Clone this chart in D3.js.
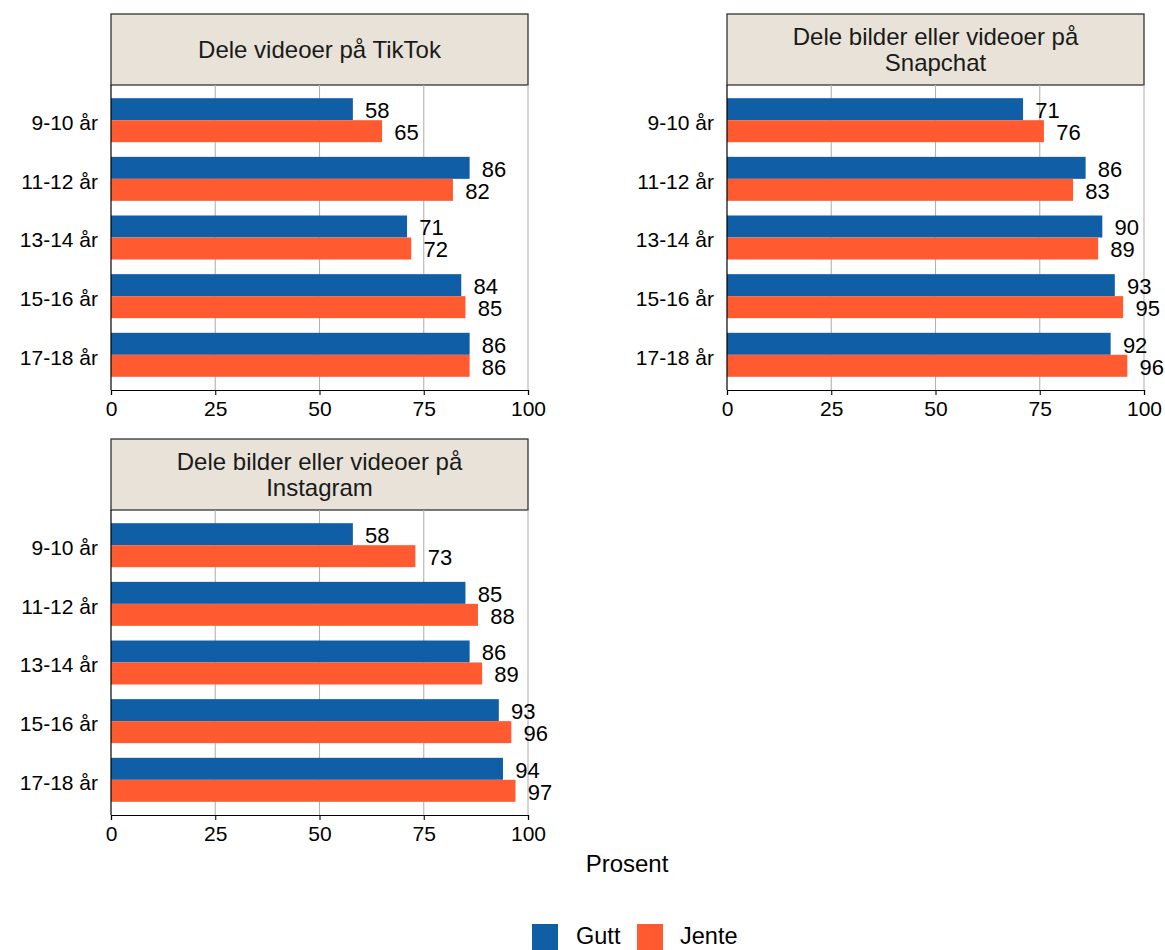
<!DOCTYPE html>
<html>
<head>
<meta charset="utf-8">
<script src="https://cdn.jsdelivr.net/npm/d3@7"></script>
<style>
  html, body { margin: 0; padding: 0; background: #ffffff; }
  svg { display: block; font-family: "Liberation Sans", Arial, Helvetica, sans-serif; }
</style>
</head>
<body>
<svg id="chart" width="1165" height="950"></svg>
<script>
// ---- data ----
const categories = ["9-10 år", "11-12 år", "13-14 år", "15-16 år", "17-18 år"];
const groups = ["Gutt", "Jente"];
const panelTitles = [
  ["Dele videoer på TikTok"],
  ["Dele bilder eller videoer på", "Snapchat"],
  ["Dele bilder eller videoer på", "Instagram"]
];
const tiktokGutt = [58, 86, 71, 84, 86];
const tiktokJente = [65, 82, 72, 85, 86];
const snapchatGutt = [71, 86, 90, 93, 92];
const snapchatJente = [76, 83, 89, 95, 96];
const instagramGutt = [58, 85, 86, 93, 94];
const instagramJente = [73, 88, 89, 96, 97];
const xTicks = [0, 25, 50, 75, 100];
const xTitle = "Prosent";

const panelData = [
  { title: panelTitles[0], gutt: tiktokGutt, jente: tiktokJente },
  { title: panelTitles[1], gutt: snapchatGutt, jente: snapchatJente },
  { title: panelTitles[2], gutt: instagramGutt, jente: instagramJente }
];

// ---- style ----
const colors = { "Gutt": "#0f5ea6", "Jente": "#ff5a30" };
const stripFill = "#e8e2d8";
const gridColor = "#b3b3b3";

const svg = d3.select("#chart");

const panelW = 417, stripH = 71, plotH = 305;
const positions = [
  { x: 111, y: 14 },
  { x: 727, y: 14 },
  { x: 111, y: 439 }
];

panelData.forEach((p, pi) => {
  const pos = positions[pi];
  const g = svg.append("g").attr("transform", `translate(${pos.x},${pos.y})`);
  const plotTop = stripH;
  const plotBottom = stripH + plotH;

  const x = d3.scaleLinear().domain([0, 100]).range([0, panelW]);
  const y = d3.scalePoint().domain(categories).range([plotTop, plotBottom]).padding(0.6);
  const step = y.step();
  const sub = d3.scaleBand().domain(groups).range([-0.375 * step, 0.375 * step]);

  // strip
  g.append("rect").attr("x", 0).attr("y", 0).attr("width", panelW).attr("height", stripH)
    .attr("fill", stripFill).attr("stroke", "#333333").attr("stroke-width", 1.3);
  const nLines = p.title.length;
  const lineH = 26;
  p.title.forEach((t, li) => {
    g.append("text")
      .attr("x", panelW / 2)
      .attr("y", stripH / 2 + (li - (nLines - 1) / 2) * lineH)
      .attr("dy", "0.35em")
      .attr("text-anchor", "middle")
      .attr("font-size", 24)
      .attr("fill", "#1a1a1a")
      .text(t);
  });

  // gridlines
  g.selectAll(".grid").data(xTicks.filter(d => d > 0)).enter().append("line")
    .attr("x1", d => x(d)).attr("x2", d => x(d))
    .attr("y1", plotTop).attr("y2", plotBottom)
    .attr("stroke", gridColor).attr("stroke-width", 1.1);

  // bars
  const rows = [];
  categories.forEach((c, i) => {
    rows.push({ cat: c, grp: "Gutt", v: p.gutt[i] });
    rows.push({ cat: c, grp: "Jente", v: p.jente[i] });
  });
  g.selectAll(".bar").data(rows).enter().append("rect")
    .attr("x", x(0))
    .attr("y", d => y(d.cat) + sub(d.grp))
    .attr("width", d => x(d.v) - x(0))
    .attr("height", sub.bandwidth())
    .attr("fill", d => colors[d.grp]);

  // value labels
  g.selectAll(".lbl").data(rows).enter().append("text")
    .attr("y", d => y(d.cat) + sub(d.grp) + sub.bandwidth() / 2 + 1)
    .attr("dy", "0.35em")
    .attr("font-size", 22)
    .attr("fill", "#000")
    .text(d => d.v)
    .each(function(d) {
      const w = this.getComputedTextLength();
      d3.select(this).attr("x", x(d.v) + w * 0.5);
    });

  // x axis
  const xAxis = d3.axisBottom(x).tickValues(xTicks).tickSize(5).tickPadding(6).tickFormat(d3.format("d"));
  const ax = g.append("g").attr("transform", `translate(0,${plotBottom})`).call(xAxis);
  ax.select(".domain").attr("stroke", "#000").attr("stroke-width", 1.2);
  ax.selectAll(".tick line").attr("stroke", "#000").attr("stroke-width", 1.1);
  ax.selectAll(".tick text").attr("font-size", 21).attr("fill", "#000")
    .attr("font-family", "Liberation Sans, Arial, sans-serif");

  // y axis
  const yAxis = d3.axisLeft(y).tickSize(0).tickPadding(13);
  const ay = g.append("g").call(yAxis);
  ay.select(".domain").attr("stroke", "#000").attr("stroke-width", 1.2)
    .attr("d", `M0,${plotTop}V${plotBottom}`);
  ay.selectAll(".tick text").attr("font-size", 21).attr("fill", "#000")
    .attr("dy", "0.45em")
    .attr("font-family", "Liberation Sans, Arial, sans-serif");
});

// x axis title
svg.append("text")
  .attr("x", 627).attr("y", 864).attr("dy", "0.35em")
  .attr("text-anchor", "middle")
  .attr("font-size", 24).attr("fill", "#000")
  .text(xTitle);

// legend
const legendItems = [
  { key: "Gutt", boxX: 532, textX: 576 },
  { key: "Jente", boxX: 637, textX: 680 }
];
const lg = svg.append("g");
lg.selectAll("rect").data(legendItems).enter().append("rect")
  .attr("x", d => d.boxX).attr("y", 924).attr("width", 26).attr("height", 26)
  .attr("fill", d => colors[d.key]);
lg.selectAll("text").data(legendItems).enter().append("text")
  .attr("x", d => d.textX).attr("y", 936).attr("dy", "0.35em")
  .attr("font-size", 23.5).attr("fill", "#000")
  .text(d => d.key);
</script>
</body>
</html>
